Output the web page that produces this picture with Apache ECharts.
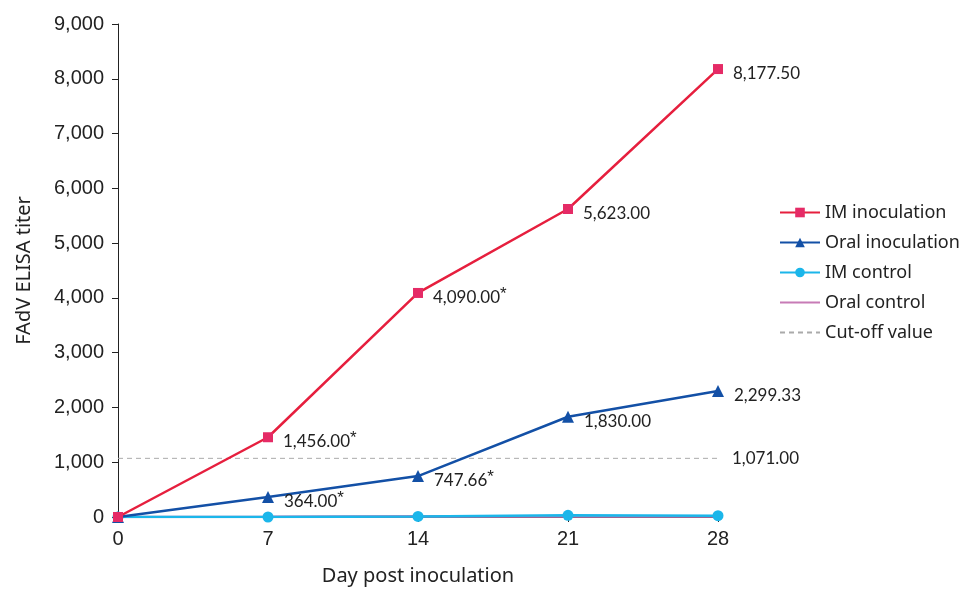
<!DOCTYPE html>
<html>
<head>
<meta charset="utf-8">
<script src="https://cdn.jsdelivr.net/npm/echarts@6/dist/echarts.min.js"></script>
<style>
  html, body { margin: 0; padding: 0; background: #fff; }
  #chart { width: 973px; height: 591px; }
</style>
</head>
<body>
<div id="chart"></div>
<script>
// days post inoculation
const days = [0, 7, 14, 21, 28]
const imInoculation = [0, 1456.00, 4090.00, 5623.00, 8177.50]
const oralInoculation = [0, 364.00, 747.66, 1830.00, 2299.33]
const imControl = [0, 0, 10, 30, 25]
const oralControl = [0, 5, 15, 10, 10]
const cutOff = 1071.00
// which labels carry an asterisk
const imStar = [false, true, true, false, false]
const oralStar = [false, true, true, false, false]

const labelFont = 'Lato'
const textFont = 'Noto Sans'

function fmt(v) {
  return v.toLocaleString('en-US', { minimumFractionDigits: 2, maximumFractionDigits: 2 })
}

function pairs(vals) {
  return days.map((d, i) => [d, vals[i]])
}

function pointLabel(stars) {
  return {
    show: true,
    position: 'right',
    distance: 10,
    offset: [0, 3],
    formatter: p => {
      if (p.dataIndex === 0) return ''
      return '{v|' + fmt(p.value[1]) + '}' + (stars[p.dataIndex] ? '{s|*}' : '')
    },
    rich: {
      v: { fontFamily: labelFont, fontSize: 17, color: '#222', lineHeight: 20, verticalAlign: 'bottom' },
      s: { fontFamily: 'Liberation Sans', fontSize: 17, color: '#222', lineHeight: 20, verticalAlign: 'top', padding: [0, 0, 6, 0] }
    }
  }
}

const chart = echarts.init(document.getElementById('chart'))
chart.setOption({
  animation: false,
  grid: { left: 118, right: 255, top: 24, bottom: 73 },
  legend: {
    orient: 'vertical',
    left: 774,
    top: 196,
    itemWidth: 40,
    itemHeight: 12,
    itemGap: 7,
    textStyle: { fontFamily: textFont, fontSize: 18, color: '#222', lineHeight: 23 },
    data: [
      'IM inoculation',
      'Oral inoculation',
      'IM control',
      { name: 'Oral control', itemStyle: { opacity: 0 } },
      { name: 'Cut-off value', itemStyle: { opacity: 0 } }
    ]
  },
  xAxis: {
    type: 'value',
    min: 0,
    max: 28,
    interval: 7,
    name: 'Day post inoculation',
    nameLocation: 'middle',
    nameGap: 49,
    nameTextStyle: { fontFamily: textFont, fontSize: 20, color: '#222' },
    axisLine: { lineStyle: { color: '#222', width: 1 } },
    axisTick: { length: 5, lineStyle: { color: '#222' } },
    axisLabel: { fontFamily: 'Liberation Sans', fontSize: 20, color: '#222', margin: 12 },
    splitLine: { show: false }
  },
  yAxis: {
    type: 'value',
    min: 0,
    max: 9000,
    interval: 1000,
    name: 'FAdV ELISA titer',
    nameLocation: 'middle',
    nameGap: 84,
    nameTextStyle: { fontFamily: textFont, fontSize: 20, color: '#222' },
    axisLine: { show: true, lineStyle: { color: '#222', width: 1 } },
    axisTick: { show: true, length: 6, lineStyle: { color: '#222' } },
    axisLabel: {
      fontFamily: 'Liberation Sans', fontSize: 20, color: '#222', margin: 14,
      formatter: v => v.toLocaleString('en-US')
    },
    splitLine: { show: false }
  },
  series: [
    {
      name: 'Cut-off value',
      type: 'line',
      data: [[days[0], cutOff], [days[days.length - 1], cutOff]],
      symbol: 'none',
      lineStyle: { color: '#aaa', width: 1, type: [5, 4] },
      itemStyle: { color: '#aaa' },
      endLabel: {
        show: true,
        distance: 14,
        formatter: p => fmt(p.value[1]),
        fontFamily: labelFont, fontSize: 17, color: '#222'
      },
      z: 1
    },
    {
      name: 'Oral control',
      type: 'line',
      data: pairs(oralControl),
      symbol: 'none',
      lineStyle: { color: '#c77bb6', width: 2.5 },
      itemStyle: { color: '#c77bb6' },
      z: 2
    },
    {
      name: 'IM control',
      type: 'line',
      data: pairs(imControl),
      symbol: 'circle',
      symbolSize: 11,
      lineStyle: { color: '#1bb6ea', width: 2.5 },
      itemStyle: { color: '#1bb6ea' },
      z: 3
    },
    {
      name: 'Oral inoculation',
      type: 'line',
      data: pairs(oralInoculation),
      symbol: 'triangle',
      symbolSize: 12,
      lineStyle: { color: '#1350a6', width: 2.5 },
      itemStyle: { color: '#1350a6' },
      label: pointLabel(oralStar),
      z: 4
    },
    {
      name: 'IM inoculation',
      type: 'line',
      data: pairs(imInoculation),
      symbol: 'rect',
      symbolSize: 10,
      lineStyle: { color: '#e61f3e', width: 2.5 },
      itemStyle: { color: '#e52b66' },
      label: pointLabel(imStar),
      z: 5
    }
  ]
})
</script>
</body>
</html>
